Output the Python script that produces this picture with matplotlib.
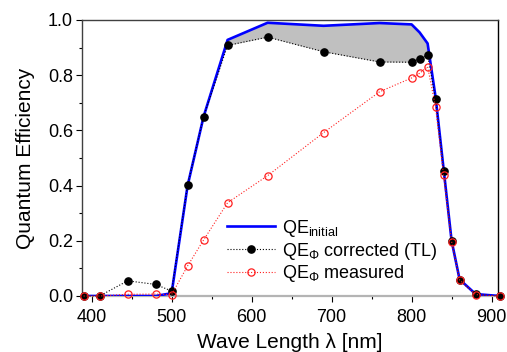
import matplotlib
matplotlib.use("Agg")
import matplotlib.pyplot as plt
import numpy as np

plt.rcParams['font.family'] = ['Liberation Sans', 'DejaVu Sans']
plt.rcParams['mathtext.fontset'] = 'custom'
plt.rcParams['mathtext.rm'] = 'Liberation Sans'
plt.rcParams['mathtext.it'] = 'Liberation Sans'

# wavelengths (nm)
wl = [390, 410, 445, 480, 500, 520, 540, 570, 620, 690, 760, 800, 810, 820,
      830, 840, 850, 860, 880, 910]

# QE initial
qe_init = [0.0, 0.0, 0.0, 0.0, 0.01, 0.40, 0.65, 0.928, 0.990, 0.979, 0.989,
           0.984, 0.955, 0.915, 0.72, 0.46, 0.20, 0.06, 0.007, 0.0]

# QE corrected (TL)
qe_corr = [0.0, 0.0, 0.055, 0.042, 0.018, 0.402, 0.65, 0.908, 0.938, 0.885,
           0.848, 0.847, 0.859, 0.872, 0.714, 0.454, 0.199, 0.058, 0.006, 0.0]

# QE measured
qe_meas = [0.0, 0.0, 0.006, 0.007, 0.005, 0.109, 0.203, 0.338, 0.436, 0.592,
           0.740, 0.790, 0.807, 0.831, 0.684, 0.437, 0.197, 0.058, 0.005, 0.0]

fig = plt.figure(figsize=(5.07, 3.52), dpi=100)
ax = fig.add_axes([82 / 507, 1 - 296 / 352, (498 - 82) / 507, (296 - 20) / 352])

wl_a = np.array(wl)
sel = (wl_a >= 570) & (wl_a <= 820)
ax.fill_between(wl_a[sel], np.array(qe_corr)[sel], np.array(qe_init)[sel],
                color='#c0c0c0', lw=0, zorder=1)

ax.plot(wl, qe_init, color='#0000ff', lw=1.9, zorder=3,
        label=r'QE$_{\mathregular{initial}}$')
ax.plot(wl, qe_corr, color='black', ls=':', lw=0.8, marker='o', ms=5.2,
        mfc='black', mec='black', zorder=4, clip_on=False,
        label=r'QE$_{\Phi}$ corrected (TL)')
ax.plot(wl, qe_meas, color='#ff2020', ls=':', lw=0.8, marker='o', ms=5.2,
        mfc='none', mec='#ff2020', mew=0.9, zorder=5, clip_on=False,
        label=r'QE$_{\Phi}$ measured')

ax.set_xlim(388, 908)
ax.set_ylim(0, 1.0)
ax.set_xticks([400, 500, 600, 700, 800, 900])
ax.set_xticks([450, 550, 650, 750, 850], minor=True)
ax.set_yticks([0.0, 0.2, 0.4, 0.6, 0.8, 1.0])
ax.set_yticks([0.1, 0.3, 0.5, 0.7, 0.9], minor=True)
ax.yaxis.set_major_formatter(matplotlib.ticker.FormatStrFormatter('%.1f'))

ax.tick_params(axis='both', which='major', direction='out', length=4.5,
               width=0.8, labelsize=13)
ax.tick_params(axis='x', which='major', pad=5)
ax.tick_params(axis='y', which='major', pad=2)
ax.tick_params(axis='both', which='minor', direction='out', length=2.5,
               width=0.8)
for s in ['top', 'left']:
    ax.spines[s].set_color('#404040')
    ax.spines[s].set_linewidth(1.0)
ax.spines['right'].set_color('black')
ax.spines['right'].set_linewidth(1.0)
ax.spines['bottom'].set_color('#b4b4b4')
ax.spines['bottom'].set_linewidth(1.6)

ax.set_xlabel('Wave Length λ [nm]', fontsize=15, labelpad=5)
ax.set_ylabel('Quantum Efficiency', fontsize=15, labelpad=9)

ax.legend(loc='lower left', bbox_to_anchor=(0.33, 0.016), frameon=False,
          fontsize=13, handlelength=2.7, handletextpad=0.4, labelspacing=0.1,
          borderaxespad=0)

fig.savefig('out.png', dpi=100)
